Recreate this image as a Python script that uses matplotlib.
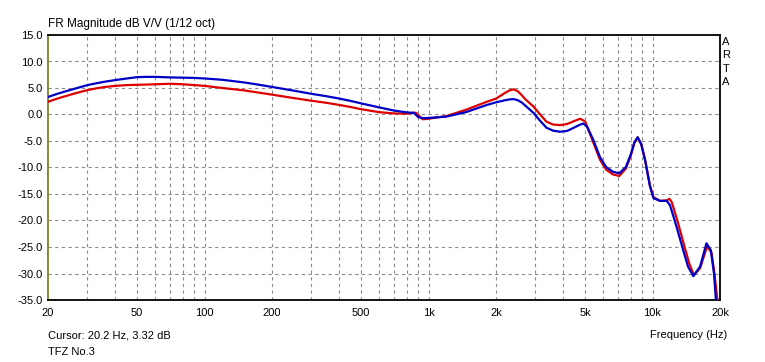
import matplotlib
matplotlib.use("Agg")
import matplotlib.pyplot as plt
from matplotlib.ticker import FixedLocator, NullFormatter, NullLocator

plt.rcParams['font.family'] = ['Liberation Sans', 'DejaVu Sans']

# frequency response (Hz, dB)
blue_freq = [20, 22, 25, 27, 30, 33, 36, 40, 45, 50, 55, 60, 70, 80, 90, 100, 120, 150,
             170, 200, 250, 300, 350, 400, 450, 500, 600, 700, 800, 860, 900, 950,
             1000, 1200, 1470, 1820, 2000, 2200, 2300, 2400, 2500, 2600, 2700, 2940,
             3150, 3360, 3600, 3860, 4150, 4400, 4700, 4900, 5100, 5440, 5820, 6200,
             6650, 7100, 7600, 8000, 8300, 8580, 8900, 9260, 9740, 10100, 10800,
             11560, 11960, 12800, 13700, 14400, 15200, 16300, 17400, 18200, 18800,
             19200, 20000]
blue_db = [3.3, 3.9, 4.6, 5.0, 5.55, 5.9, 6.2, 6.5, 6.8, 7.05, 7.1, 7.1, 7.0, 6.95, 6.9,
           6.8, 6.55, 6.05, 5.7, 5.2, 4.5, 3.9, 3.45, 3.0, 2.55, 2.1, 1.35, 0.75, 0.4,
           0.3, -0.5, -0.7, -0.65, -0.4, 0.45, 1.8, 2.3, 2.7, 2.85, 2.9, 2.7, 2.3,
           1.7, 0.3, -1.2, -2.5, -3.05, -3.25, -3.1, -2.6, -2.0, -1.7, -2.3, -4.8,
           -8.0, -9.9, -10.8, -11.1, -9.9, -7.5, -5.2, -4.3, -5.6, -8.6, -13.6,
           -15.8, -16.3, -16.3, -17.1, -21.2, -25.6, -28.7, -30.5, -28.7, -24.3,
           -25.6, -30.0, -35.3, -38.0]

red_freq = [20, 22, 25, 27, 30, 33, 36, 40, 45, 50, 60, 70, 80, 90, 100, 120, 150,
            170, 200, 250, 300, 350, 400, 450, 500, 600, 700, 800, 860, 880, 940,
            1000, 1200, 1470, 1820, 2000, 2200, 2300, 2400, 2500, 2600, 2700, 2940,
            3150, 3360, 3600, 3860, 4150, 4400, 4750, 5000, 5440, 5820, 6200, 6650,
            7100, 7600, 8000, 8300, 8580, 8900, 9260, 9740, 10100, 10800, 11560,
            11900, 12200, 13000, 13900, 14600, 15300, 16300, 17500, 18300, 18900,
            19400, 20000]
red_db = [2.4, 3.0, 3.7, 4.1, 4.6, 4.95, 5.2, 5.4, 5.55, 5.6, 5.7, 5.8, 5.7, 5.55,
          5.4, 5.0, 4.55, 4.2, 3.75, 3.1, 2.6, 2.2, 1.8, 1.4, 1.0, 0.45, 0.2, 0.15,
          0.35, 0.3, -0.9, -0.8, -0.3, 0.9, 2.4, 3.0, 4.1, 4.55, 4.75, 4.4, 3.7,
          2.9, 1.5, 0.0, -1.35, -1.9, -2.0, -1.8, -1.35, -0.8, -1.3, -5.3, -8.5,
          -10.4, -11.3, -11.6, -10.2, -7.7, -5.3, -4.3, -5.6, -8.6, -13.4, -15.6,
          -16.3, -16.2, -15.9, -16.6, -20.5, -25.0, -28.2, -30.3, -29.0, -24.9,
          -26.0, -30.0, -34.5, -37.0]

x_ticks = [20, 50, 100, 200, 500, 1000, 2000, 5000, 10000, 20000]
x_labels = ['20', '50', '100', '200', '500', '1k', '2k', '5k', '10k', '20k']
x_grid = [30, 40, 50, 60, 70, 80, 90, 100, 200, 300, 400, 500, 600, 700, 800, 900,
          1000, 2000, 3000, 4000, 5000, 6000, 7000, 8000, 9000, 10000]
y_ticks = [15, 10, 5, 0, -5, -10, -15, -20, -25, -30, -35]

fig = plt.figure(figsize=(7.65, 3.62), dpi=100)
ax = fig.add_axes([48 / 765, 62 / 362, 672 / 765, 265 / 362])

ax.set_xscale('log')
ax.set_xlim(20, 20000)
ax.set_ylim(-35, 15)

for f in x_grid:
    ax.axvline(f, color='#8c8c8c', lw=0.8, ls=(0, (3, 3)), zorder=1)
for v in y_ticks[1:-1]:
    ax.axhline(v, color='#8c8c8c', lw=0.8, ls=(0, (3, 3)), zorder=1)

ax.plot(red_freq, red_db, color='#dc0000', lw=1.6, zorder=3, solid_joinstyle='round')
ax.plot(blue_freq, blue_db, color='#0000c8', lw=1.6, zorder=4, solid_joinstyle='round')

ax.xaxis.set_major_locator(FixedLocator(x_ticks))
ax.set_xticklabels(x_labels)
ax.xaxis.set_minor_locator(NullLocator())
ax.xaxis.set_minor_formatter(NullFormatter())
ax.set_yticks(y_ticks)
ax.set_yticklabels([f'{v:.1f}' for v in y_ticks])
ax.tick_params(axis='both', length=0, labelsize=8, colors='black')
ax.tick_params(axis='x', pad=6)
ax.tick_params(axis='y', pad=4)

for side in ['top', 'right', 'bottom']:
    ax.spines[side].set_color('black')
    ax.spines[side].set_linewidth(1.3)
ax.spines['left'].set_color('#80802a')
ax.spines['left'].set_linewidth(1.3)

fig.text(48 / 765, 1 - 24 / 362, 'FR Magnitude dB V/V (1/12 oct)', fontsize=8.5, va='center', ha='left')
fig.text(48 / 765, 1 - 335 / 362, 'Cursor: 20.2 Hz, 3.32 dB', fontsize=8, va='center', ha='left')
fig.text(48 / 765, 1 - 352 / 362, 'TFZ No.3', fontsize=8, va='center', ha='left')
fig.text(727 / 765, 1 - 335 / 362, 'Frequency (Hz)', fontsize=8, va='center', ha='right')
for i, ch in enumerate('ARTA'):
    fig.text(726 / 765, 1 - (42 + 13.3 * i) / 362, ch, fontsize=8, va='center', ha='center')

fig.savefig('out.png', dpi=100)
